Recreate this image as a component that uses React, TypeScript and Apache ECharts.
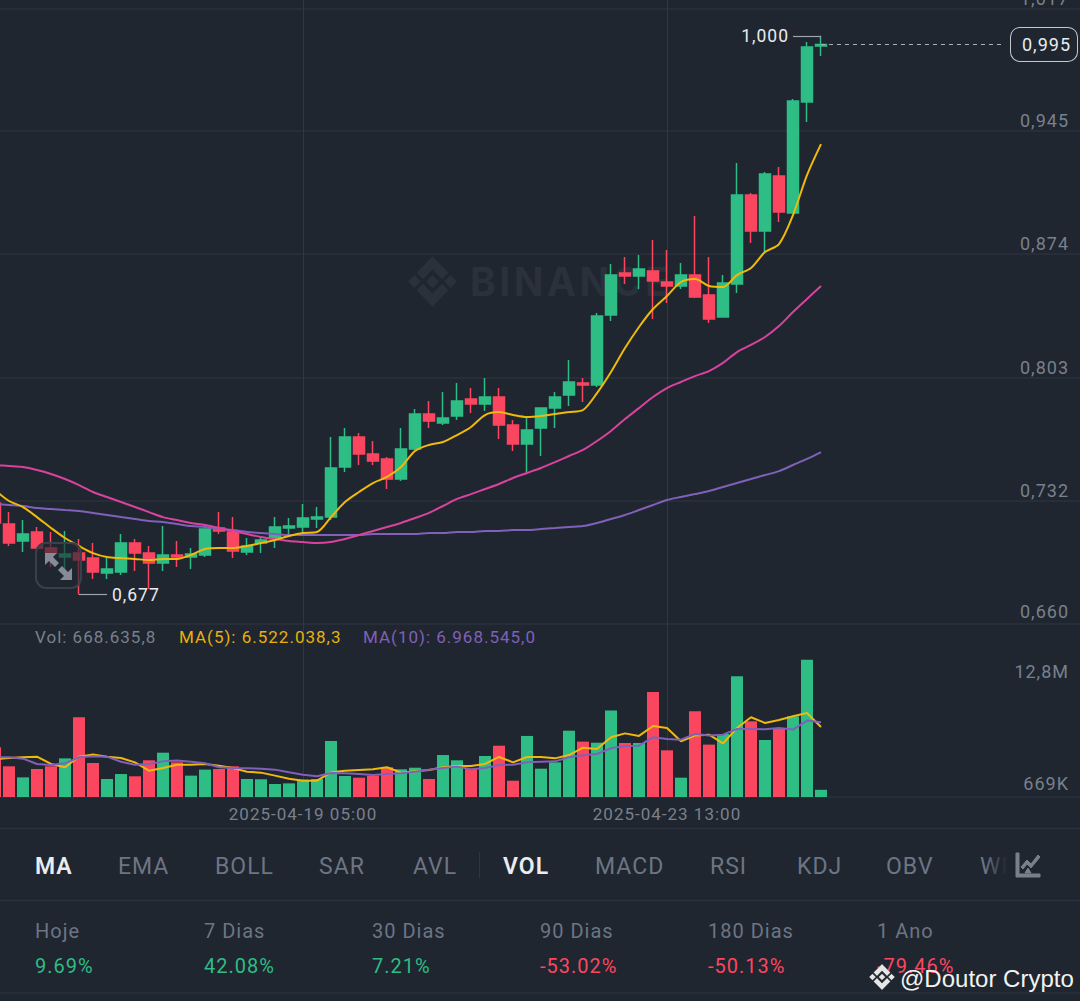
import React, { useEffect, useRef } from "react";
import * as echarts from "echarts";

const categories = [
  "2025-04-15 13:00","2025-04-15 17:00","2025-04-15 21:00",
  "2025-04-16 01:00","2025-04-16 05:00","2025-04-16 09:00","2025-04-16 13:00","2025-04-16 17:00","2025-04-16 21:00",
  "2025-04-17 01:00","2025-04-17 05:00","2025-04-17 09:00","2025-04-17 13:00","2025-04-17 17:00","2025-04-17 21:00",
  "2025-04-18 01:00","2025-04-18 05:00","2025-04-18 09:00","2025-04-18 13:00","2025-04-18 17:00","2025-04-18 21:00",
  "2025-04-19 01:00","2025-04-19 05:00","2025-04-19 09:00","2025-04-19 13:00","2025-04-19 17:00","2025-04-19 21:00",
  "2025-04-20 01:00","2025-04-20 05:00","2025-04-20 09:00","2025-04-20 13:00","2025-04-20 17:00","2025-04-20 21:00",
  "2025-04-21 01:00","2025-04-21 05:00","2025-04-21 09:00","2025-04-21 13:00","2025-04-21 17:00","2025-04-21 21:00",
  "2025-04-22 01:00","2025-04-22 05:00","2025-04-22 09:00","2025-04-22 13:00","2025-04-22 17:00","2025-04-22 21:00",
  "2025-04-23 01:00","2025-04-23 05:00","2025-04-23 09:00","2025-04-23 13:00","2025-04-23 17:00","2025-04-23 21:00",
  "2025-04-24 01:00","2025-04-24 05:00","2025-04-24 09:00","2025-04-24 13:00","2025-04-24 17:00","2025-04-24 21:00",
  "2025-04-25 01:00","2025-04-25 05:00","2025-04-25 09:00",
];
const emptySlots: string[] = Array(18).fill("");
const dateLabels = ["2025-04-19 05:00", "2025-04-23 13:00"];

const opens = [.7299,.7178,.7080,.7132,.7039,.6987,.7010,.6981,.6895,.6901,.7068,.7010,.6953,.6999,.6987,.6999,.7155,.7132,.7016,.7068,.7097,.7155,.7161,.7207,.7218,.7507,.7681,.7583,.7554,.7438,.7612,.7814,.7762,.7802,.7901,.7872,.7912,.7750,.7640,.7733,.7848,.7924,.7993,.7981,.8386,.8629,.8611,.8640,.8577,.8554,.8617,.8502,.8374,.8565,.9080,.8872,.9189,.8976,.9617,.9941];
const closes = [.7184,.7068,.7120,.7039,.7010,.7005,.6970,.6901,.6918,.7068,.7010,.6953,.6999,.6987,.7005,.7149,.7138,.7022,.7051,.7086,.7161,.7166,.7213,.7218,.7502,.7681,.7583,.7542,.7438,.7612,.7814,.7773,.7791,.7889,.7872,.7912,.7750,.7640,.7721,.7848,.7912,.7999,.7981,.8380,.8617,.8611,.8652,.8583,.8554,.8617,.8490,.8363,.8571,.9080,.8872,.9201,.8981,.9623,.9935,.9950];
const lows = [.7143,.7051,.7016,.7034,.6929,.6895,.6770,.6860,.6860,.6883,.6906,.6802,.6906,.6929,.6918,.6987,.7120,.6981,.6999,.7010,.7039,.7120,.7120,.7155,.7201,.7479,.7519,.7519,.7380,.7427,.7606,.7733,.7750,.7779,.7820,.7831,.7669,.7600,.7473,.7571,.7733,.7860,.7883,.7970,.8351,.8565,.8536,.8363,.8455,.8536,.8484,.8340,.8374,.8513,.8802,.8750,.8924,.8976,.9502,.9883];
const highs = [.7346,.7247,.7201,.7161,.7132,.7138,.7091,.7068,.6981,.7120,.7091,.7051,.7166,.7080,.7039,.7149,.7247,.7218,.7097,.7097,.7218,.7213,.7294,.7276,.7681,.7733,.7704,.7658,.7565,.7733,.7843,.7889,.7941,.7993,.7964,.8022,.7964,.7779,.7796,.7848,.7941,.8126,.8022,.8398,.8681,.8721,.8733,.8820,.8762,.8687,.8958,.8721,.8617,.9265,.9091,.9213,.9241,.9635,.9964,1.0000];

const maFast = [.7375,.7311,.7276,.7218,.7155,.7097,.7051,.7010,.6987,.6981,.6976,.6970,.6976,.6976,.6999,.7034,.7039,.7039,.7051,.7068,.7086,.7109,.7126,.7132,.7218,.7305,.7363,.7415,.7450,.7507,.7600,.7635,.7652,.7692,.7739,.7808,.7825,.7808,.7796,.7802,.7814,.7825,.7837,.7935,.8057,.8195,.8317,.8421,.8496,.8577,.8594,.8554,.8548,.8617,.8658,.8750,.8796,.8964,.9195,.9374];
const maMid = [.7519,.7513,.7507,.7490,.7467,.7438,.7403,.7363,.7334,.7305,.7276,.7247,.7218,.7201,.7184,.7172,.7155,.7138,.7120,.7103,.7091,.7080,.7074,.7068,.7074,.7091,.7114,.7138,.7161,.7184,.7213,.7242,.7282,.7323,.7351,.7380,.7409,.7444,.7473,.7502,.7536,.7571,.7606,.7658,.7716,.7785,.7848,.7912,.7964,.7999,.8033,.8062,.8109,.8172,.8213,.8259,.8322,.8403,.8479,.8554];
const maSlow = [.7294,.7288,.7282,.7270,.7265,.7259,.7253,.7242,.7230,.7218,.7207,.7195,.7190,.7178,.7166,.7161,.7149,.7143,.7132,.7126,.7120,.7114,.7114,.7114,.7114,.7114,.7114,.7120,.7120,.7120,.7120,.7126,.7126,.7132,.7132,.7138,.7138,.7143,.7143,.7149,.7155,.7161,.7166,.7184,.7207,.7230,.7259,.7288,.7317,.7334,.7351,.7369,.7392,.7415,.7438,.7461,.7484,.7519,.7554,.7594];

// volume, in millions
const volumes = [4.63,2.86,1.83,2.61,2.86,3.60,7.43,3.17,1.68,2.14,1.93,3.42,4.13,3.23,1.99,2.55,2.61,2.86,1.68,1.65,1.21,1.27,1.62,1.68,5.22,1.96,1.80,1.99,2.77,2.58,2.73,1.68,3.91,3.42,2.61,3.82,4.78,1.52,5.69,2.64,3.23,6.18,5.16,5.06,8.05,5.03,5.03,9.79,4.35,1.80,7.98,4.88,5.87,11.25,7.05,5.31,6.43,7.52,12.80,0.6686];
const volMa5 = [3.54,3.64,3.70,3.76,3.08,2.77,3.76,3.95,3.76,3.64,3.23,2.45,2.70,3.01,3.01,3.08,2.92,2.70,2.36,2.27,1.99,1.71,1.52,1.52,2.30,2.45,2.52,2.58,2.77,2.27,2.39,2.52,2.77,2.89,2.89,3.08,3.73,3.23,3.73,3.73,3.60,3.91,4.60,4.47,5.56,5.93,5.69,6.62,6.43,5.19,5.72,5.81,5.00,6.43,7.43,6.90,7.18,7.52,7.83,6.522];
const volMa10 = [3.70,3.70,3.57,3.08,2.98,3.14,3.70,3.79,3.76,3.29,3.01,3.08,3.32,3.39,3.29,3.14,2.77,2.70,2.67,2.64,2.55,2.30,2.08,1.93,2.24,2.21,2.14,2.05,2.14,2.21,2.36,2.55,2.70,2.83,2.58,2.70,2.98,3.01,3.23,3.29,3.32,3.70,3.88,4.01,4.54,4.75,4.78,5.56,5.41,5.34,5.87,5.72,5.81,6.34,6.34,6.31,6.43,6.28,7.12,6.9685];

const priceTicks = [0.66, 0.7311, 0.8022, 0.8739, 0.945, 1.0157];
const priceTickLabels = ["0,660", "0,732", "0,803", "0,874", "0,945", "1,017"];
const volumeTicks = [0.6686, 12.8];
const volumeTickLabels = ["669K", "12,8M"];

const lastPrice = 0.995;
const highPoint = 1.0;
const lowPoint = 0.677;

const indicatorTabs = [
  ["MA", 35, true], ["EMA", 118, false], ["BOLL", 215, false], ["SAR", 319, false], ["AVL", 413, false],
  ["VOL", 503, true], ["MACD", 595, false], ["RSI", 710, false], ["KDJ", 797, false], ["OBV", 886, false],
] as [string, number, boolean][];
const periodNames = ["Hoje", "7 Dias", "30 Dias", "90 Dias", "180 Dias", "1 Ano"];
const periodValues = ["9.69%", "42.08%", "7.21%", "-53.02%", "-50.13%", "-79.46%"];
const periodX = [35, 204, 372, 540, 708, 877];

const BG = "#1f2630";
const GRID = "#2b323d";
const VGRID = "#303742";
const UP = "#2ebd85";
const DOWN = "#fb4660";
const YELLOW = "#f0b90b";
const PINK = "#d9439f";
const PURPLE = "#8060b8";
const MUTED = "#79808c";
const FONT = "Roboto";

const LOGO = "M50 4L80 34L68 46L50 28L32 46L20 34ZM50 96L80 66L68 54L50 72L32 54L20 66ZM4 50L16 38L28 50L16 62ZM96 50L84 38L72 50L84 62ZM50 38L62 50L50 62L38 50Z";
const TREND = "M0 0H3V21H24V24H0ZM5 14L11 7L15 11L22 2L24 4L15 15L11 11L7 16ZM9 20L12 15L15 20Z";
echarts.graphic.registerShape("bnbLogo", echarts.graphic.extendPath(LOGO, {}));
echarts.graphic.registerShape("trendIcon", echarts.graphic.extendPath(TREND, {}));

const allCategories = [...categories, ...emptySlots];
const showDate = (_: number, v: string) => dateLabels.includes(v);

function hLine(y: number) {
  return { type: "line", shape: { x1: 0, y1: y, x2: 1080, y2: y }, style: { stroke: GRID, lineWidth: 1.5 }, z: 1 };
}
function label(text: string, x: number, y: number, fill: string, fontSize: number, fontWeight: any = 400, z = 20) {
  return { type: "text", x, y, z, style: { text, fill, fontSize, fontWeight, fontFamily: FONT, textVerticalAlign: "middle" } };
}

function buildOption(): any {
  const graphic: any[] = [
    hLine(828.5), hLine(900.5), hLine(993),
    { type: "bnbLogo", x: 406, y: 254, scaleX: 0.53, scaleY: 0.55, z: -1, style: { fill: "#2b313b" } },
    { type: "text", x: 470, y: 281, z: -1, style: { text: "BINANCE", fill: "#2b313b", fontSize: 39, fontWeight: 700, fontFamily: "Inter", textVerticalAlign: "middle" } },
    label("Vol: 668.635,8", 35, 637, MUTED, 17),
    label("MA(5): 6.522.038,3", 179, 637, "#e8b10c", 17),
    label("MA(10): 6.968.545,0", 363, 637, PURPLE, 17),
    { type: "rect", z: 100, shape: { x: 36, y: 543, width: 45, height: 45, r: 10 }, style: { fill: "rgba(31,38,48,0.62)", stroke: "#3a404b", lineWidth: 2 } },
    { type: "polygon", z: 101, shape: { points: [[45, 553], [57, 553], [53, 557], [59, 563], [55, 567], [49, 561], [45, 565]] }, style: { fill: "#858c98" } },
    { type: "polygon", z: 101, shape: { points: [[72, 580], [60, 580], [64, 576], [58, 570], [62, 566], [68, 572], [72, 568]] }, style: { fill: "#858c98" } },
    { type: "line", shape: { x1: 479.5, y1: 852, x2: 479.5, y2: 878 }, style: { stroke: "#2f3641", lineWidth: 1 }, z: 1 },
    label("WR", 980, 866, "#6d7583", 23),
    { type: "rect", z: 21, shape: { x: 985, y: 850, width: 22, height: 32 }, style: { fill: new echarts.graphic.LinearGradient(0, 0, 1, 0, [{ offset: 0, color: "rgba(31,38,48,0)" }, { offset: 1, color: BG }]) } },
    { type: "rect", z: 21, shape: { x: 1007, y: 850, width: 73, height: 32 }, style: { fill: BG } },
    { type: "trendIcon", x: 1016, y: 853, z: 22, style: { fill: "#79808c", stroke: "#79808c", lineWidth: 1 } },
    { type: "bnbLogo", x: 868, y: 963, scaleX: 0.28, scaleY: 0.28, z: 40, style: { fill: "#e6e6e6", stroke: "#1f2630", lineWidth: 0.6 } },
    { type: "text", x: 900, y: 978, z: 41, style: { text: "@Doutor Crypto", fill: "#f2f2f2", fontSize: 24, fontFamily: "Liberation Sans", textVerticalAlign: "middle" } },
  ];
  indicatorTabs.forEach(([t, x, active]) => {
    graphic.push(label(t, x, 866, active ? "#eaecef" : "#6d7583", 23, active ? 600 : 400));
  });
  periodNames.forEach((t, i) => {
    graphic.push(label(t, periodX[i], 931, "#6d7583", 20));
    graphic.push(label(periodValues[i], periodX[i], 966, periodValues[i].startsWith("-") ? DOWN : UP, 20));
  });

  const baseX = { type: "category", data: allCategories, boundaryGap: true, axisLine: { show: false }, axisTick: { show: false } };
  const vSplit = { show: true, interval: showDate, alignWithLabel: true, lineStyle: { color: VGRID, width: 1 } };

  return {
    animation: false,
    backgroundColor: BG,
    graphic,
    grid: [
      { left: -12, width: 1092, top: 0, height: 624, containLabel: false, outerBoundsMode: "none" },
      { left: -12, width: 1092, top: 624, height: 173, containLabel: false, outerBoundsMode: "none" },
    ],
    xAxis: [
      { ...baseX, gridIndex: 0, axisLabel: { show: false }, splitLine: vSplit },
      { ...baseX, gridIndex: 1, axisLabel: { show: true, interval: showDate, margin: 8, color: MUTED, fontSize: 17, fontFamily: FONT, hideOverlap: false }, splitLine: vSplit },
    ],
    yAxis: [
      {
        type: "value", gridIndex: 0, position: "right", min: 0.66, max: 1.0207, scale: true,
        axisLine: { show: false },
        axisTick: { show: false, customValues: priceTicks },
        splitLine: { show: true, lineStyle: { color: GRID, width: 1.5 } },
        axisLabel: {
          inside: true, margin: 11, color: MUTED, fontSize: 18, fontFamily: FONT, verticalAlign: "bottom", padding: [0, 0, 1, 0],
          customValues: priceTicks, showMinLabel: true, showMaxLabel: true,
          formatter: (v: number) => {
            const i = priceTicks.indexOf(v);
            return i === 0 ? `{low|${priceTickLabels[i]}}` : priceTickLabels[i] ?? "";
          },
          rich: { low: { color: MUTED, fontSize: 18, fontFamily: FONT, padding: [0, 0, 3, 0] } },
        },
      },
      {
        type: "value", gridIndex: 1, position: "right", min: 0, max: 16.12,
        axisLine: { show: false },
        axisTick: { show: false, customValues: [0] },
        splitLine: { show: true, lineStyle: { color: GRID, width: 1.5 } },
        axisLabel: {
          inside: true, margin: 11, color: MUTED, fontSize: 18, fontFamily: FONT,
          customValues: volumeTicks,
          formatter: (v: number) => {
            const i = volumeTicks.indexOf(v);
            return i === 1 ? `{b|${volumeTickLabels[i]}}` : `{a|${volumeTickLabels[i]}}`;
          },
          rich: {
            a: { color: MUTED, fontSize: 18, fontFamily: FONT, padding: [0, 0, 12, 0] },
            b: { color: MUTED, fontSize: 18, fontFamily: FONT, padding: [24, 0, 0, 0] },
          },
        },
      },
    ],
    series: [
      {
        type: "candlestick", xAxisIndex: 0, yAxisIndex: 0, barWidth: 11, z: 3,
        data: opens.map((o, i) => [o, closes[i], lows[i], highs[i]]),
        itemStyle: { color: UP, color0: DOWN, borderColor: UP, borderColor0: DOWN, borderWidth: 1.5 },
        markLine: {
          silent: true, symbol: ["none", "none"], animation: false, z: 6,
          data: [
            [
              { coord: [59, lastPrice], lineStyle: { color: "#aab0ba", type: [4, 4], width: 1 },
                label: { show: true, position: "end", distance: 8, formatter: "0,995", color: "#eaecef", fontSize: 18, fontFamily: FONT,
                  backgroundColor: BG, borderColor: "#c4c9d0", borderWidth: 1, borderRadius: 9, padding: [10, 11, 5, 11] } },
              { coord: [72, lastPrice] },
            ],
            [
              { coord: [59, highPoint], lineStyle: { color: "#9da3ad", type: "solid", width: 1.2 },
                label: { show: true, position: "end", distance: 4, formatter: "1,000", color: "#eaecef", fontSize: 17.5, fontFamily: FONT, padding: [4, 0, 0, 0] } },
              { coord: [57, highPoint] },
            ],
            [
              { coord: [6, lowPoint], lineStyle: { color: "#9da3ad", type: "solid", width: 1.2 },
                label: { show: true, position: "end", distance: 5, formatter: "0,677", color: "#eaecef", fontSize: 17.5, fontFamily: FONT, padding: [4, 0, 0, 0] } },
              { coord: [8, lowPoint] },
            ],
          ],
        },
      },
      { type: "line", xAxisIndex: 0, yAxisIndex: 0, data: maSlow, showSymbol: false, smooth: 0.3, z: 4, lineStyle: { color: PURPLE, width: 2 } },
      { type: "line", xAxisIndex: 0, yAxisIndex: 0, data: maMid, showSymbol: false, smooth: 0.3, z: 4, lineStyle: { color: PINK, width: 2 } },
      { type: "line", xAxisIndex: 0, yAxisIndex: 0, data: maFast, showSymbol: false, smooth: 0.3, z: 5, lineStyle: { color: YELLOW, width: 2 } },
      {
        type: "bar", xAxisIndex: 1, yAxisIndex: 1, barWidth: 12, z: 3,
        data: volumes.map((v, i) => ({ value: v, itemStyle: { color: closes[i] >= opens[i] ? UP : DOWN } })),
      },
      { type: "line", xAxisIndex: 1, yAxisIndex: 1, data: volMa5, showSymbol: false, z: 4, lineStyle: { color: YELLOW, width: 2 } },
      { type: "line", xAxisIndex: 1, yAxisIndex: 1, data: volMa10, showSymbol: false, z: 5, lineStyle: { color: PURPLE, width: 2 } },
    ],
  };
}

export default function App() {
  const ref = useRef<HTMLDivElement>(null);
  useEffect(() => {
    document.body.style.margin = "0";
    document.body.style.background = BG;
    const chart = echarts.init(ref.current!, undefined, { renderer: "svg", width: 1080, height: 1001 });
    chart.setOption(buildOption());
    return () => chart.dispose();
  }, []);
  return (
    <>
      <style>{`
        .chart-host svg text { letter-spacing: 1px; }
        .chart-host svg text[style*="Liberation"] { letter-spacing: 0; }
        .chart-host svg text[style*="Inter"] { letter-spacing: 3.5px; }
      `}</style>
      <div ref={ref} className="chart-host" style={{ width: 1080, height: 1001, overflow: "hidden" }} />
    </>
  );
}
